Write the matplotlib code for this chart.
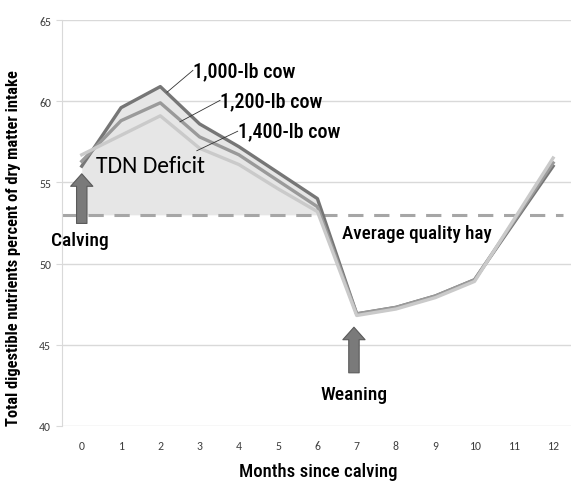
import matplotlib
matplotlib.use('Agg')
import matplotlib.pyplot as plt
import numpy as np

months = np.arange(13)
cow_1000 = [56.0, 59.6, 60.9, 58.6, 57.2, 55.6, 54.0, 46.9, 47.3, 48.0, 49.0, 52.5, 56.0]
cow_1200 = [56.3, 58.8, 59.9, 57.8, 56.7, 55.1, 53.5, 46.9, 47.3, 48.0, 49.0, 52.6, 56.2]
cow_1400 = [56.7, 57.9, 59.1, 57.1, 56.1, 54.6, 53.2, 46.8, 47.2, 47.9, 48.9, 52.7, 56.5]
hay_tdn = 53.0
xticks = list(range(13))
yticks = [40, 45, 50, 55, 60, 65]

narrow = ['Roboto Condensed', 'Archivo Narrow', 'DejaVu Sans']
calib = ['Carlito', 'Lato', 'DejaVu Sans']

fig = plt.figure(figsize=(5.86, 4.89), dpi=100)
ax = fig.add_axes([0.106, 0.127, 0.868, 0.830])

# TDN deficit area
top = np.array(cow_1000, dtype=float)
m = months <= 6
xf = np.append(months[m], 6.1)
yf = np.append(top[m], hay_tdn)
ax.fill_between(xf, hay_tdn, yf, color='#e6e6e6', lw=0, zorder=1)

ax.axhline(hay_tdn, xmin=0.0, xmax=0.985, color='#a6a6a6', lw=2.2, ls=(0, (5, 3.5)), zorder=2)

ax.plot(months, cow_1000, color='#767676', lw=2.4, zorder=3)
ax.plot(months, cow_1200, color='#9a9a9a', lw=2.4, zorder=4)
ax.plot(months, cow_1400, color='#cacaca', lw=2.4, zorder=5)

# labels with leader lines
labels = [('1,000-lb cow', (2.17, 60.55), (2.83, 61.9)),
          ('1,200-lb cow', (2.50, 58.73), (3.52, 60.05)),
          ('1,400-lb cow', (2.93, 56.95), (3.97, 58.15))]
for txt, p0, p1 in labels:
    ax.plot([p0[0], p1[0]], [p0[1], p1[1]], color='#333333', lw=0.6, zorder=6)
    ax.text(p1[0], p1[1], txt, family=narrow, fontsize=14.5, fontweight='medium',
            ha='left', va='center', zorder=7)

ax.text(0.36, 56.05, 'TDN Deficit', family=calib, fontsize=17, ha='left', va='center', zorder=7)

# arrows
ax.annotate('', xy=(0, 55.7), xytext=(0, 52.3),
            arrowprops=dict(arrowstyle='simple,head_width=1.6,head_length=0.9,tail_width=0.75',
                            fc='#7a7a7a', ec='#5a5a5a', lw=0.8), zorder=8)
ax.annotate('', xy=(6.93, 46.25), xytext=(6.93, 43.1),
            arrowprops=dict(arrowstyle='simple,head_width=1.6,head_length=0.9,tail_width=0.75',
                            fc='#7a7a7a', ec='#5a5a5a', lw=0.8), zorder=8)

ax.text(-0.05, 51.45, 'Calving', family=narrow, fontsize=14, fontweight='medium', ha='center', va='center')
ax.text(6.93, 41.95, 'Weaning', family=narrow, fontsize=14, fontweight='medium', ha='center', va='center')
ax.text(8.52, 51.9, 'Average quality hay', family=narrow, fontsize=13.8, fontweight='medium',
        ha='center', va='center')

ax.set_xlim(-0.5, 12.45)
ax.set_ylim(40, 65)
ax.set_xticks(xticks)
ax.set_yticks(yticks)
ax.grid(axis='y', color='#d9d9d9', lw=1)
ax.set_axisbelow(True)
for s in ['top', 'right', 'bottom']:
    ax.spines[s].set_visible(False)
ax.spines['left'].set_color('#d9d9d9')
ax.tick_params(axis='x', length=0, pad=10, labelsize=8.5, labelcolor='#404040')
ax.tick_params(axis='y', length=4, color='#d9d9d9', pad=4, labelsize=8.5, labelcolor='#404040')
for lab in ax.get_xticklabels() + ax.get_yticklabels():
    lab.set_family(calib)

ax.set_xlabel('Months since calving', family=narrow, fontsize=13.5, fontweight='medium')
ax.xaxis.set_label_coords(0.503, -0.09)
ax.set_ylabel('Total digestible nutrients percent of dry matter intake', family=narrow,
              fontsize=11.9, fontweight='bold')
ax.yaxis.set_label_coords(-0.081, 0.44)

fig.savefig('out.png', dpi=100)
